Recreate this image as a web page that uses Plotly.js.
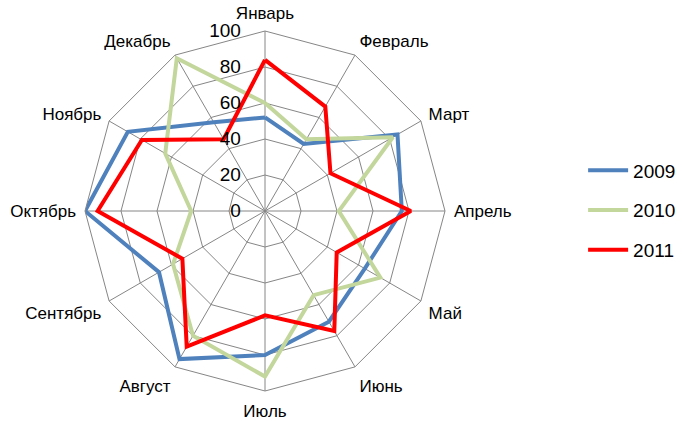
<!DOCTYPE html>
<html><head><meta charset="utf-8">
<script src="https://cdn.plot.ly/plotly-3.0.1.min.js"></script>
<style>html,body{margin:0;padding:0;background:#fff}#chart{width:682px;height:421px}</style>
</head><body><div id="chart"></div>
<script>
const months = ["Январь","Февраль","Март","Апрель","Май","Июнь","Июль","Август","Сентябрь","Октябрь","Ноябрь","Декабрь"];
const series2009 = [52, 43, 85, 76, 64, 71, 80, 95, 68, 100, 88, 57];
const series2010 = [60, 46, 82, 41, 74, 54, 92, 80, 59, 41, 64, 98];
const series2011 = [84, 67, 42, 81, 46, 77, 58, 87, 53, 93, 79, 46];
const radialTicks = [0, 20, 40, 60, 80, 100];

function closeLoop(a){ return a.concat([a[0]]); }
const colors = {"2009":"#4F81BD","2010":"#C3D69B","2011":"#FF0000"};
const traces = [["2009",series2009],["2010",series2010],["2011",series2011]].map(([n,v]) => ({
  type:"scatterpolar", mode:"lines", name:n, legendgroup:n,
  r: closeLoop(v), theta: closeLoop(months),
  line:{color:colors[n], width:4}
}));

const layout = {
  width:682, height:421, margin:{l:0,r:0,t:0,b:0},
  paper_bgcolor:"#fff",
  font:{family:"Liberation Sans, Open Sans, sans-serif", size:17, color:"#000"},
  showlegend:true,
  legend:{x:0.855, y:0.5, xanchor:"left", yanchor:"middle", font:{size:19}, tracegroupgap:12, itemwidth:40},
  polar:{
    domain:{x:[85/682, 445/682], y:[30/421, 390/421]},
    bgcolor:"#fff",
    gridshape:"linear",
    angularaxis:{direction:"clockwise", rotation:90, gridcolor:"#868686", linecolor:"#868686", linewidth:1, gridwidth:1, showline:true, ticks:"outside", ticklen:5, tickcolor:"rgba(0,0,0,0)", tickfont:{size:17}},
    radialaxis:{range:[0,100], tickvals:radialTicks, angle:90, tickangle:90, side:"counterclockwise", gridcolor:"#868686", gridwidth:1, showline:false, ticks:"outside", ticklen:17, tickcolor:"rgba(0,0,0,0)", tickfont:{size:19}}
  }
};
Plotly.newPlot("chart", traces, layout, {displayModeBar:false});
</script></body></html>
